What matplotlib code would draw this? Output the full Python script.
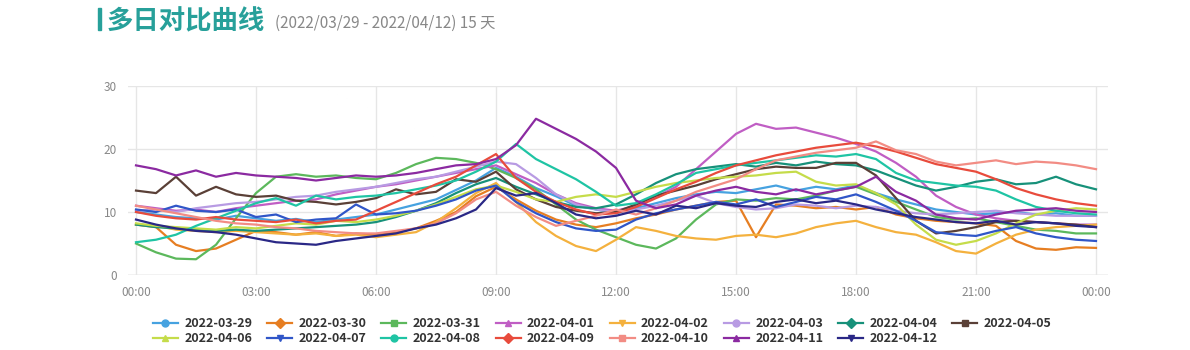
import numpy as np
import matplotlib.pyplot as plt
from matplotlib.lines import Line2D

plt.rcParams['font.family'] = ['Noto Sans CJK SC', 'DejaVu Sans']

# half-hour samples, 00:00 .. 24:00
hours = np.arange(49) * 0.5

dates = ["2022-03-29", "2022-03-30", "2022-03-31", "2022-04-01", "2022-04-02",
         "2022-04-03", "2022-04-04", "2022-04-05", "2022-04-06", "2022-04-07",
         "2022-04-08", "2022-04-09", "2022-04-10", "2022-04-11", "2022-04-12"]

colors = ["#46a2e0", "#e67e22", "#5cb85c", "#c05ec4", "#f4b13e",
          "#b89be3", "#17917a", "#5a4037", "#c5dc4a", "#3056c8",
          "#1fc4a4", "#e84b3c", "#f28c84", "#8b2aa1", "#2a2886"]

markers = ["o", "D", "s", "^", "v"] * 3

d0329 = [10.0, 9.6, 9.2, 9.0, 8.8, 9.4, 9.0, 8.6, 8.9, 8.4, 8.8, 9.2,
         9.6, 10.4, 11.2, 12.0, 13.5, 15.0, 17.0, 15.6, 13.8, 12.5, 11.0, 10.4,
         9.8, 10.6, 11.4, 12.2, 12.8, 13.2, 13.0, 13.6, 14.2, 13.4, 14.0, 13.6,
         14.2, 13.0, 12.0, 11.2, 10.4, 10.0, 9.6, 9.8, 10.0, 9.6, 9.8, 9.4, 9.4]
d0330 = [8.0, 7.6, 4.8, 3.8, 4.2, 5.6, 7.0, 6.8, 6.4, 6.8, 6.2, 6.6,
         6.4, 6.8, 7.4, 8.6, 10.0, 12.5, 14.0, 12.0, 10.2, 8.8, 8.0, 7.6,
         8.2, 9.0, 9.6, 10.4, 11.0, 11.6, 11.8, 6.0, 11.2, 11.0, 10.6, 10.8,
         10.4, 10.8, 9.6, 9.0, 8.6, 8.4, 8.2, 7.8, 5.4, 4.2, 4.0, 4.4, 4.3]
d0331 = [5.0, 3.6, 2.6, 2.5, 4.8, 9.0, 13.0, 15.6, 16.0, 15.6, 15.8, 15.4,
         15.2, 16.2, 17.6, 18.6, 18.4, 17.8, 16.8, 15.4, 13.6, 11.2, 8.8, 7.2,
         6.0, 4.8, 4.2, 5.8, 8.8, 11.2, 12.0, 11.8, 12.2, 12.0, 12.6, 13.4,
         14.0, 12.8, 11.6, 10.4, 9.2, 8.8, 9.0, 8.4, 7.8, 7.2, 7.0, 6.6, 6.6]
d0401 = [11.0, 10.6, 10.2, 10.4, 10.0, 10.6, 11.0, 11.4, 11.8, 12.0, 12.8, 13.4,
         14.0, 14.4, 15.0, 15.6, 16.2, 16.8, 17.4, 16.0, 14.6, 12.8, 11.4, 10.6,
         10.2, 11.0, 12.4, 14.0, 16.8, 19.6, 22.4, 24.0, 23.2, 23.4, 22.6, 21.8,
         20.8, 19.6, 17.8, 15.6, 12.6, 10.8, 9.6, 9.0, 8.6, 8.4, 8.2, 8.0, 8.0]
d0402 = [8.0, 7.8, 7.2, 7.0, 6.8, 7.0, 6.8, 6.6, 6.4, 6.6, 6.2, 6.4,
         6.0, 6.4, 6.8, 8.4, 10.6, 13.0, 14.6, 11.6, 8.4, 6.2, 4.6, 3.8,
         5.6, 7.6, 7.0, 6.2, 5.8, 5.6, 6.2, 6.4, 6.0, 6.6, 7.6, 8.2,
         8.6, 7.6, 6.8, 6.4, 5.2, 3.8, 3.4, 5.0, 6.4, 7.2, 7.6, 7.8, 8.0]
d0403 = [10.2, 10.4, 10.0, 10.6, 11.0, 11.4, 11.6, 12.0, 12.4, 12.6, 13.2, 13.6,
         14.0, 14.6, 15.2, 15.6, 16.4, 17.2, 18.0, 17.6, 15.4, 12.8, 11.2, 10.4,
         10.0, 10.4, 11.0, 11.8, 12.6, 11.4, 10.8, 10.4, 10.6, 11.2, 11.0, 10.6,
         11.0, 10.8, 10.2, 9.8, 9.6, 9.8, 10.0, 10.2, 9.8, 9.6, 9.4, 9.4, 9.4]
d0404 = [8.0, 7.6, 7.4, 7.2, 7.0, 7.2, 7.0, 7.2, 7.4, 7.6, 7.8, 8.0,
         8.4, 9.2, 10.2, 11.4, 13.0, 14.4, 15.4, 14.0, 12.8, 11.6, 10.8, 10.6,
         11.2, 12.8, 14.6, 16.0, 16.8, 17.2, 17.6, 17.2, 17.8, 17.4, 18.0, 17.6,
         17.4, 16.6, 15.4, 14.2, 13.4, 14.0, 14.8, 15.2, 14.4, 14.6, 15.6, 14.4, 13.6]
d0405 = [13.4, 13.0, 15.6, 12.6, 14.0, 12.8, 12.4, 12.6, 11.8, 11.6, 11.2, 11.6,
         12.2, 13.6, 12.8, 13.2, 15.2, 14.8, 16.4, 13.6, 12.0, 10.8, 10.2, 9.8,
         10.0, 11.2, 12.6, 13.4, 14.2, 15.2, 16.0, 16.8, 17.2, 17.0, 17.0, 17.8,
         17.8, 15.8, 12.2, 8.6, 6.6, 7.0, 7.6, 8.4, 8.6, 8.4, 8.2, 8.0, 7.6]
d0406 = [8.2, 7.8, 7.6, 7.4, 7.2, 7.6, 7.4, 7.8, 8.2, 8.0, 8.6, 8.4,
         8.8, 9.4, 10.2, 11.2, 12.4, 13.6, 14.2, 13.2, 12.0, 11.6, 12.4, 12.8,
         12.4, 13.2, 14.0, 14.6, 15.0, 15.4, 15.6, 15.8, 16.2, 16.4, 14.8, 14.2,
         14.4, 13.0, 11.2, 8.0, 5.6, 4.8, 5.4, 6.6, 8.2, 9.6, 10.2, 10.6, 10.4]
d0407 = [10.4, 10.0, 11.0, 10.2, 10.0, 10.4, 9.2, 9.6, 8.4, 8.8, 9.0, 11.2,
         9.6, 9.8, 10.2, 11.0, 12.0, 13.4, 14.2, 11.6, 9.8, 8.4, 7.4, 7.0,
         7.2, 8.8, 9.8, 10.4, 11.0, 11.6, 11.2, 12.0, 10.8, 11.6, 12.4, 12.0,
         12.8, 11.6, 10.2, 8.6, 6.8, 6.4, 6.2, 7.0, 7.6, 6.6, 6.0, 5.6, 5.4]
d0408 = [5.2, 5.6, 6.4, 7.8, 9.0, 10.2, 11.4, 12.2, 11.0, 12.6, 12.0, 12.4,
         12.6, 13.0, 13.6, 14.2, 15.0, 16.4, 18.0, 20.8, 18.4, 16.8, 15.2, 13.2,
         11.0, 11.4, 12.8, 14.4, 16.2, 16.8, 17.4, 17.8, 18.2, 18.6, 19.0, 18.8,
         19.2, 18.4, 16.2, 15.0, 14.6, 14.2, 14.0, 13.4, 12.0, 10.8, 10.2, 9.8, 9.6]
d0409 = [10.0, 9.4, 9.0, 8.8, 9.2, 8.8, 8.6, 8.4, 8.8, 8.2, 8.6, 8.8,
         10.2, 11.6, 13.0, 14.4, 15.6, 17.4, 19.2, 15.4, 13.2, 11.6, 10.4, 9.6,
         9.8, 10.8, 12.2, 13.6, 14.8, 16.2, 17.4, 18.2, 19.0, 19.6, 20.2, 20.6,
         21.0, 20.4, 19.6, 18.6, 17.6, 17.0, 16.4, 15.2, 13.8, 12.8, 12.0, 11.4, 11.0]
d0410 = [11.0, 10.4, 9.8, 9.2, 8.6, 8.2, 8.0, 7.6, 7.4, 7.0, 6.8, 6.6,
         6.6, 7.0, 7.4, 8.2, 9.8, 12.0, 13.2, 11.0, 9.2, 7.8, 8.6, 9.4,
         10.4, 9.6, 10.6, 11.8, 13.2, 14.2, 15.2, 16.8, 18.2, 18.8, 19.4, 19.8,
         20.2, 21.2, 19.8, 19.2, 18.0, 17.4, 17.8, 18.2, 17.6, 18.0, 17.8, 17.4, 16.8]
d0411 = [17.4, 16.8, 15.8, 16.6, 15.6, 16.2, 15.8, 15.6, 15.4, 15.0, 15.4, 15.8,
         15.6, 15.8, 16.2, 16.8, 17.4, 17.6, 18.4, 20.6, 24.8, 23.2, 21.6, 19.6,
         17.0, 11.8, 10.6, 11.2, 12.6, 13.4, 14.0, 13.2, 12.8, 13.6, 12.8, 13.4,
         14.0, 15.6, 13.2, 11.8, 9.6, 9.0, 8.8, 9.6, 10.2, 10.4, 10.6, 10.2, 10.0]
d0412 = [8.8, 8.0, 7.4, 7.0, 6.8, 6.4, 5.8, 5.2, 5.0, 4.8, 5.4, 5.8,
         6.2, 6.6, 7.4, 8.0, 9.0, 10.4, 13.8, 12.6, 13.0, 11.4, 9.6, 9.0,
         9.4, 10.2, 9.6, 11.0, 10.6, 11.4, 11.0, 10.8, 11.6, 12.0, 11.4, 11.8,
         11.2, 10.4, 9.8, 9.2, 8.8, 8.4, 8.2, 8.6, 8.0, 8.4, 8.2, 7.8, 7.6]

series = [d0329, d0330, d0331, d0401, d0402, d0403, d0404, d0405,
          d0406, d0407, d0408, d0409, d0410, d0411, d0412]

xticks = [0, 3, 6, 9, 12, 15, 18, 21, 24]
xlabels = ["00:00", "03:00", "06:00", "09:00", "12:00", "15:00", "18:00", "21:00", "00:00"]

fig = plt.figure(figsize=(11.9, 3.5), dpi=100)
ax = fig.add_axes([128 / 1190, 1 - 275 / 350, 980 / 1190, 189 / 350])

for vals, c in zip(series, colors):
    ax.plot(hours, vals, color=c, lw=1.6, solid_joinstyle="round")

ax.set_xlim(-0.2, 24.3)
ax.set_ylim(0, 30)
ax.set_xticks(xticks)
ax.set_xticklabels(xlabels)
ax.set_yticks([0, 10, 20, 30])
ax.grid(True, color="#e6e6e6", lw=1)
ax.set_axisbelow(True)
for s in ax.spines.values():
    s.set_visible(False)
ax.axhline(0, color="#cccccc", lw=1, zorder=0)
ax.tick_params(length=0, labelsize=8.5, labelcolor="#888888", pad=8)

# title
fig.patches.append(plt.Rectangle((98 / 1190, 1 - 30 / 350), 3 / 1190, 22 / 350,
                                 transform=fig.transFigure, color="#27a09a"))
fig.text(107 / 1190, 1 - 29 / 350, "多日对比曲线", fontsize=19, fontweight="bold",
         color="#27a09a", va="baseline")
fig.text(275 / 1190, 1 - 28 / 350, "(2022/03/29 - 2022/04/12) 15 天", fontsize=11,
         color="#888888", va="baseline")

# legend, row-major order
handles = [Line2D([], [], color=c, lw=1.6, marker=m, markersize=5)
           for c, m in zip(colors, markers)]
order = [0, 8, 1, 9, 2, 10, 3, 11, 4, 12, 5, 13, 6, 14, 7]
leg = fig.legend([handles[i] for i in order], [dates[i] for i in order],
                 loc="upper left", bbox_to_anchor=(153 / 1190, 1 - 317 / 350),
                 ncol=8, frameon=False, numpoints=1, handlelength=2.0,
                 handletextpad=0.5, columnspacing=1.2, labelspacing=0.15,
                 prop={"size": 9, "weight": "bold"}, borderaxespad=0, borderpad=0)
for t in leg.get_texts():
    t.set_color("#333333")

fig.savefig("out.png", dpi=100, facecolor="white")
